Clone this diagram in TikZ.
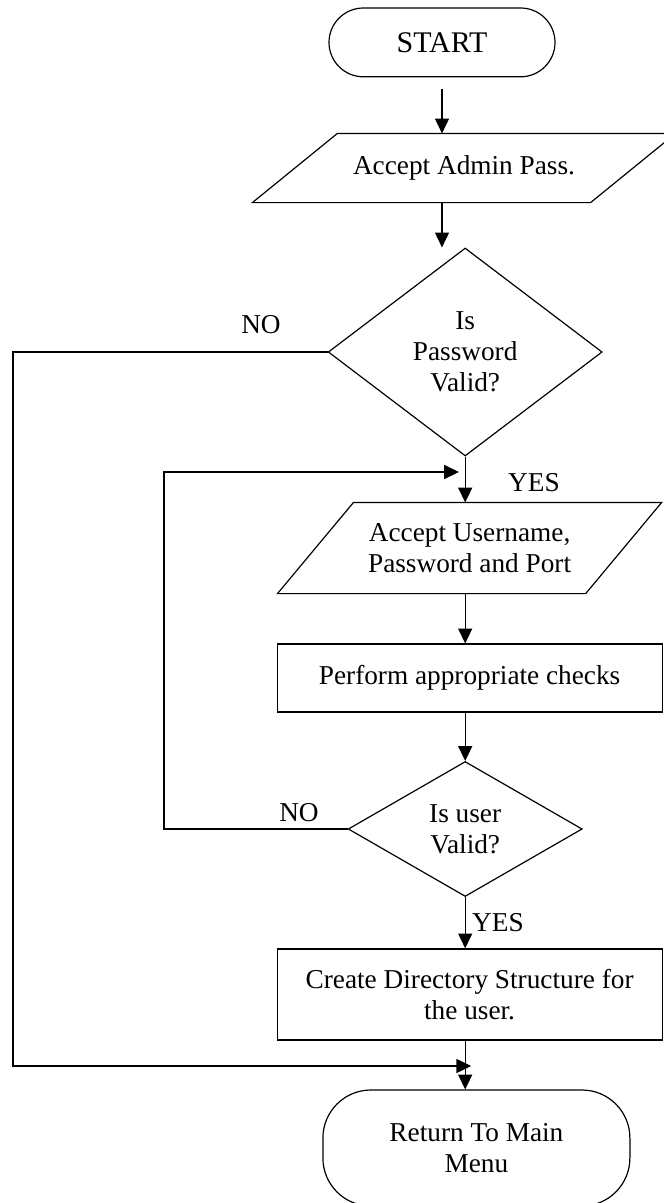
\documentclass[tikz,border=0pt]{standalone}
\usepackage{fontspec}
\setmainfont{Liberation Serif}
\usepackage{tikz}
\usetikzlibrary{calc,shapes,arrows.meta}
\newcommand\flowfont{\fontsize{19.4}{22}\selectfont}
\newcommand\mainx{11.63}
% slanted outline round an (undrawn) io node: #1 node name, #2 slant offset
\newcommand\ioshape[2]{\draw ([xshift=#2]#1.north west) -- (#1.north east)
    -- ([xshift=-#2]#1.south east) -- (#1.south west) -- cycle;}
\tikzstyle{termbox}=[rectangle,draw=black,fill=white,rounded corners=0.86cm,
                     font=\flowfont,align=center,inner sep=2pt]
\tikzstyle{iobox}=[rectangle,font=\flowfont,align=center,inner sep=2pt]
\tikzstyle{procbox}=[rectangle,draw=black,fill=white,
                     font=\flowfont,align=center,inner sep=2pt]
\tikzstyle{decbox}=[diamond,draw=black,fill=white,
                    font=\flowfont,align=center,inner sep=0pt]
\tikzstyle{labeltext}=[font=\flowfont,inner sep=0pt]
\tikzstyle{flowarrow}=[-{Triangle[length=3.7mm,width=3.5mm]}]

\begin{document}
\begin{tikzpicture}[line width=0.85pt]
    \useasboundingbox (0,0) rectangle (16.6,-30.075);
    % boxes
    \node [termbox, font=\fontsize{21.3}{24}\selectfont,
           minimum width=5.65cm, minimum height=1.72cm] (start) at (11.05,-1.06) {START};
    \node [iobox, minimum width=10.55cm, minimum height=1.7cm] (adminIn) at (11.6,-4.2) {Accept Admin Pass.};
    \ioshape{adminIn}{2.125cm}
    \node [decbox, minimum width=6.85cm, minimum height=5.2cm] (pwdOk) at (\mainx,-8.8) {Is\\ Password\\ Valid?};
    \node [iobox, minimum width=9.575cm, minimum height=2.25cm] (userIn) at (11.74,-13.7) {Accept Username,\\ Password and Port};
    \ioshape{userIn}{1.9cm}
    \node [procbox, minimum width=9.625cm, minimum height=1.7cm] (checks) at (11.74,-16.95) {Perform appropriate checks};
    \node [decbox, minimum width=5.85cm, minimum height=3.375cm] (userOk) at (\mainx,-20.725) {Is user\\ Valid?};
    \node [procbox, minimum width=9.625cm, minimum height=2.275cm] (mkdir) at (11.74,-24.86) {Create Directory Structure for\\ the user.};
    \node [termbox, rounded corners=1.2cm, minimum width=7.675cm, minimum height=2.9cm] (menu) at (11.91,-28.7) {Return To Main\\ Menu};
    % labels
    \node [labeltext] (noPwd) at (6.525,-8.125) {NO};
    \node [labeltext] (yesPwd) at (13.35,-12.075) {YES};
    \node [labeltext] (noUser) at (7.475,-20.325) {NO};
    \node [labeltext] (yesUser) at (12.45,-23.075) {YES};
    % rails
    \coordinate (leftrail) at (0.325,0);
    \coordinate (looprail) at (4.1,0);
    \coordinate (loopin) at (11.475,-11.8);
    \coordinate (merge) at (11.78,-26.65);
    % connectors
    \draw [flowarrow, shorten <=0.3cm] (start.south) -- (start.south |- adminIn.north);
    \draw [flowarrow] (start.south |- adminIn.south) -- (start.south |- pwdOk.north);
    \draw [flowarrow] (pwdOk.south) -- (pwdOk.south |- userIn.north);
    \draw [flowarrow] (pwdOk.south |- userIn.south) -- (pwdOk.south |- checks.north);
    \draw [flowarrow] (pwdOk.south |- checks.south) -- (userOk.north);
    \draw [flowarrow] (userOk.south) -- (userOk.south |- mkdir.north);
    \draw [flowarrow] (userOk.south |- mkdir.south) -- (userOk.south |- menu.north);
    \draw [flowarrow] (pwdOk.west) -- (pwdOk.west -| leftrail) |- (merge);
    \draw [flowarrow] (userOk.west) -- (userOk.west -| looprail) |- (loopin);
\end{tikzpicture}
\end{document}
